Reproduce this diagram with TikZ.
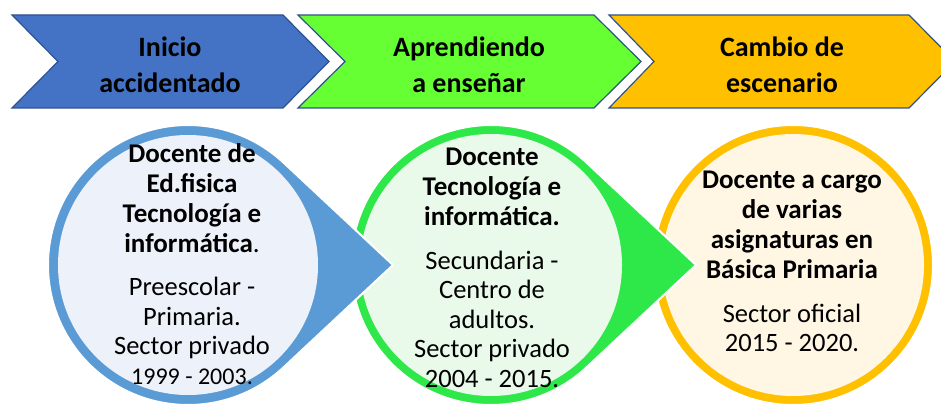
\documentclass[tikz,border=0pt]{standalone}
\usepackage{fontspec}
\setmainfont{Carlito}
\usetikzlibrary{calc}
\definecolor{chevblue}{HTML}{4472C4}
\definecolor{chevgreen}{HTML}{66FF33}
\definecolor{chevorange}{HTML}{FFC000}
\definecolor{chevline}{HTML}{2F528F}
\definecolor{ringblue}{HTML}{5B9BD5}
\definecolor{paleblue}{HTML}{EDF2FA}
\definecolor{ringgreen}{HTML}{2EE84A}
\definecolor{palegreen}{HTML}{E9FAEA}
\definecolor{ringorange}{HTML}{FFC000}
\definecolor{paleorange}{HTML}{FFF6E4}
\begin{document}
\begin{tikzpicture}[x=1pt,y=1pt,
	chevron/.style={draw=chevline, line width=1.2pt, line join=miter},
	bubble/.style={draw=white, line width=2pt},
	headtext/.style={font=\fontsize{28}{36}\selectfont\bfseries, align=center},
	titletext/.style={font=\fontsize{27}{30}\selectfont\bfseries, align=center},
	detailtext/.style={font=\fontsize{26.5}{29.5}\selectfont, align=center}]

	\useasboundingbox (0,0) rectangle (941,405);

	\fill[chevblue, chevron] (12,390) -- (283,390) -- (329,343.5) -- (283,297) -- (12,297) -- (58,343.5) -- cycle;
	\fill[chevgreen, chevron] (298,390) -- (594,390) -- (641,343.5) -- (594,297) -- (298,297) -- (345,343.5) -- cycle;
	\fill[chevorange, chevron] (609,390) -- (909,390) -- (955,343.5) -- (909,297) -- (609,297) -- (654,343.5) -- cycle;

	\node[headtext] (h1) at (170,340) {Inicio\\accidentado};
	\node[headtext] (h2) at (469,340) {Aprendiendo\\a enseñar};
	\node[headtext] (h3) at (782,340) {Cambio de\\escenario};

	\coordinate (cb) at (188,140);
	\coordinate (cg) at (491,140);
	\coordinate (co) at (793,140);

	\fill[ringorange, bubble] (co) circle [radius=140];
	\fill[paleorange] (co) circle [radius=131];

	\fill[ringgreen, bubble] ($(cg)+(46.93:140)$) -- ($(cg)+(205,0)$) -- ($(cg)+(-46.93:140)$)
		arc [start angle=-46.93, end angle=-313.07, radius=140] -- cycle;
	\fill[palegreen] (cg) circle [radius=131];

	\fill[ringblue, bubble] ($(cb)+(46.93:140)$) -- ($(cb)+(205,0)$) -- ($(cb)+(-46.93:140)$)
		arc [start angle=-46.93, end angle=-313.07, radius=140] -- cycle;
	\fill[paleblue] (cb) circle [radius=130];

	\node[titletext] (t1) at (192,207) {Docente de\\Ed.fisica\\Tecnología e\\informática{\mdseries .}};
	\node[detailtext] (d1) at (192,74) {Preescolar -\\Primaria.\\Sector privado\\{\fontsize{24}{29.5}\selectfont 1999 - 2003.}};

	\node[titletext] (t2) at (492,218) {Docente\\Tecnología e\\informática.};
	\node[detailtext] (d2) at (492,86) {Secundaria -\\Centro de\\adultos.\\Sector privado\\2004 - 2015.};

	\node[titletext] (t3) at (792,180) {Docente a cargo\\de varias\\asignaturas en\\Básica Primaria};
	\node[detailtext] (d3) at (792,77) {Sector oficial\\2015 - 2020.};

\end{tikzpicture}
\end{document}
